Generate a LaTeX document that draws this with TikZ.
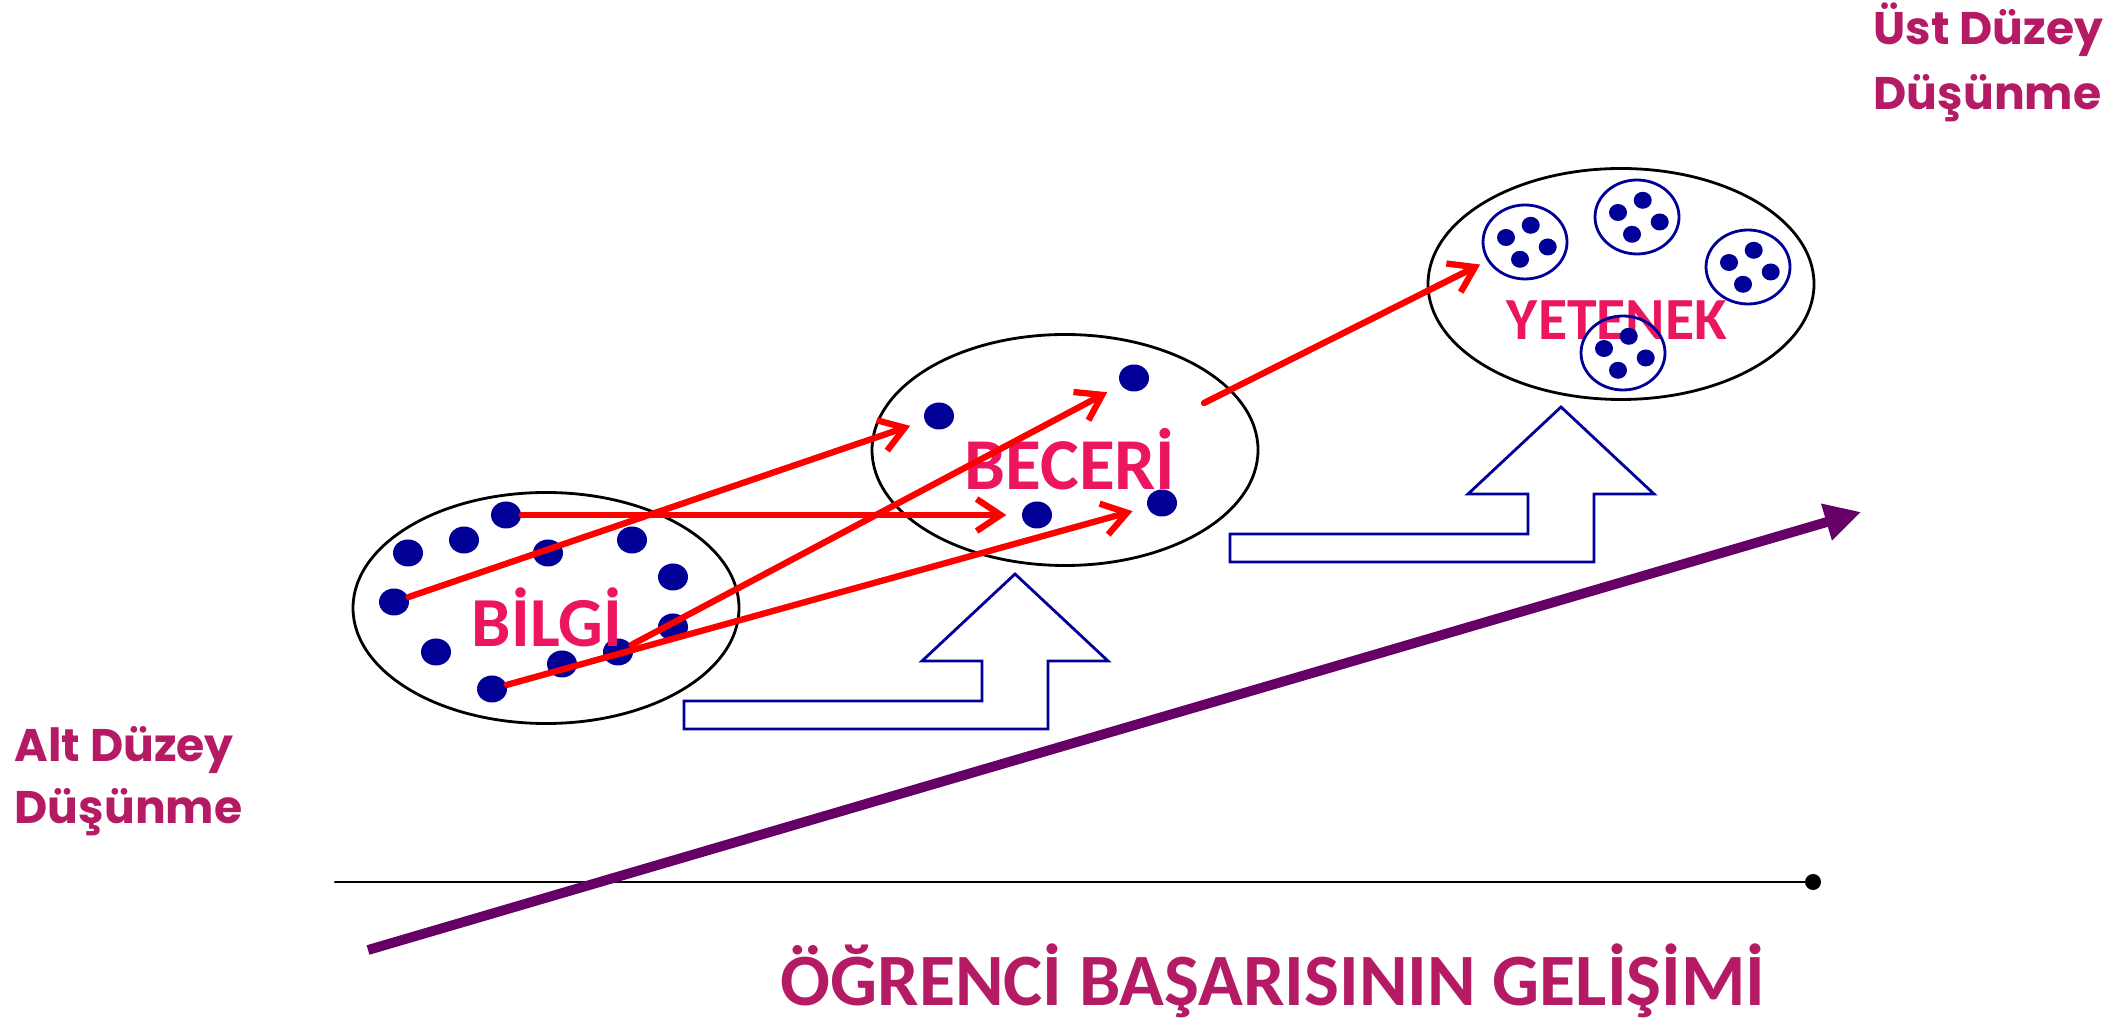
\documentclass[tikz,border=0pt]{standalone}
\usepackage{fontspec}
\setmainfont{Carlito}
\newfontfamily\geofont{Poppins}
\usetikzlibrary{arrows.meta,shapes.geometric,calc}
\definecolor{dotblue}{RGB}{0,0,150}
\definecolor{lblpink}{RGB}{236,22,96}
\definecolor{capmag}{RGB}{181,27,100}
\definecolor{trendpurple}{RGB}{102,0,102}
\definecolor{stepnavy}{RGB}{0,0,153}

\begin{document}
\begin{tikzpicture}[line cap=round,line join=round,x=1.0cm,y=1.0cm,
	bigdot/.style={ellipse,fill=dotblue,inner sep=0pt,minimum width=0.30cm,minimum height=0.27cm},
	smalldot/.style={ellipse,fill=dotblue,inner sep=0pt,minimum width=0.18cm,minimum height=0.17cm},
	groupring/.style={ellipse,draw=dotblue,line width=0.8pt,inner sep=0pt,minimum width=0.84cm,minimum height=0.74cm},
	setoval/.style={ellipse,draw=black,line width=0.8pt,inner sep=0pt,minimum width=3.86cm,minimum height=2.31cm},
	setlabel/.style={anchor=base,text=lblpink,font=\bfseries\fontsize{20}{24}\selectfont},
	levellabel/.style={anchor=base west,inner sep=0pt,text=capmag,font=\geofont\bfseries\fontsize{13}{16}\selectfont},
	link/.style={draw=red,line width=1.8pt,-{Straight Barb[length=2.4mm,width=3.2mm]},shorten >=0.15cm},
	stepup/.style={draw=stepnavy,line width=0.8pt,line cap=butt,line join=miter}]
		\useasboundingbox (0,0) rectangle (21.11,10.22);
		% three sets
		\node[setoval] (bilgiset) at (5.46,4.14) {};
		\node[setoval] (beceriset) at (10.65,5.72) {};
		\node[setoval] (yetenekset) at (16.21,7.38) {};
		% bent arrows
		\draw [stepup] (6.84,3.21)-- (9.82,3.21)-- (9.82,3.61)-- (9.22,3.61)-- (10.15,4.48)-- (11.08,3.61)-- (10.48,3.61)-- (10.48,2.93)-- (6.84,2.93)-- cycle;
		\draw [stepup] (12.30,4.88)-- (15.28,4.88)-- (15.28,5.28)-- (14.68,5.28)-- (15.61,6.15)-- (16.54,5.28)-- (15.94,5.28)-- (15.94,4.60)-- (12.30,4.60)-- cycle;
		% dots of BILGI
		\node[bigdot] (b1) at (4.08,4.69) {};
		\node[bigdot] (b2) at (4.64,4.82) {};
		\node[bigdot] (b3) at (5.06,5.07) {};
		\node[bigdot] (b4) at (5.48,4.69) {};
		\node[bigdot] (b5) at (6.32,4.82) {};
		\node[bigdot] (b6) at (6.73,4.45) {};
		\node[bigdot] (b7) at (3.94,4.20) {};
		\node[bigdot] (b8) at (4.36,3.70) {};
		\node[bigdot] (b9) at (5.62,3.58) {};
		\node[bigdot] (b10) at (6.18,3.70) {};
		\node[bigdot] (b11) at (6.73,3.95) {};
		\node[bigdot] (b12) at (4.92,3.33) {};
		% dots of BECERI
		\node[bigdot] (c1) at (9.39,6.06) {};
		\node[bigdot] (c2) at (10.37,5.07) {};
		\node[bigdot] (c3) at (11.34,6.44) {};
		\node[bigdot] (c4) at (11.62,5.19) {};
		% labels
		\node[setlabel] (bilgi) at (5.47,3.75) {BİLGİ};
		\node[setlabel,font=\bfseries\fontsize{20.8}{24}\selectfont] (beceri) at (10.70,5.32) {BECERİ};
		\node[setlabel,font=\bfseries\fontsize{17}{20}\selectfont] (yetenek) at (16.17,6.82) {YETENEK};
		% groups of YETENEK
		\foreach \g/\p in {y1/{15.25,7.80},y2/{16.37,8.05},y3/{17.48,7.55},y4/{16.23,6.69}} {
			\node[groupring] (\g) at (\p) {};
			\node[smalldot] at ($(\g)+(-0.19,0.045)$) {};
			\node[smalldot] at ($(\g)+(0.057,0.167)$) {};
			\node[smalldot] at ($(\g)+(0.227,-0.05)$) {};
			\node[smalldot] at ($(\g)+(-0.05,-0.173)$) {};
		}
		% red links
		\draw [link] (b7)-- (c1);
		\draw [link] (b3)-- (c2);
		\draw [link] (b10)-- (c3);
		\draw [link] (b12)-- (c4);
		\coordinate (beceriout) at (12.04,6.19);
		\draw [link,shorten >=0.08cm] (beceriout)-- (y1);
		% axis and trend
		\coordinate (axisstart) at (3.35,1.40);
		\node[circle,fill=black,inner sep=0pt,minimum size=0.16cm] (axisend) at (18.13,1.40) {};
		\draw [line width=0.7pt] (axisstart)-- (axisend.center);
		\coordinate (trendstart) at (3.68,0.72);
		\coordinate (trendend) at (18.61,5.10);
		\draw [draw=trendpurple,line width=2.8pt,line cap=butt,-{Triangle[length=0.36cm,width=0.36cm]}] (trendstart)-- (trendend);
		% texts
		\node[anchor=base,text=capmag,font=\bfseries\fontsize{21}{25}\selectfont] (title) at (12.73,0.17) {ÖĞRENCİ BAŞARISININ GELİŞİMİ};
		\node[levellabel] (alt1) at (0.14,2.60) {Alt Düzey};
		\node[levellabel] (alt2) at (0.14,1.99) {Düşünme};
		\node[levellabel] (ust1) at (18.73,9.77) {Üst Düzey};
		\node[levellabel] (ust2) at (18.73,9.12) {Düşünme};
	\end{tikzpicture}
\end{document}
